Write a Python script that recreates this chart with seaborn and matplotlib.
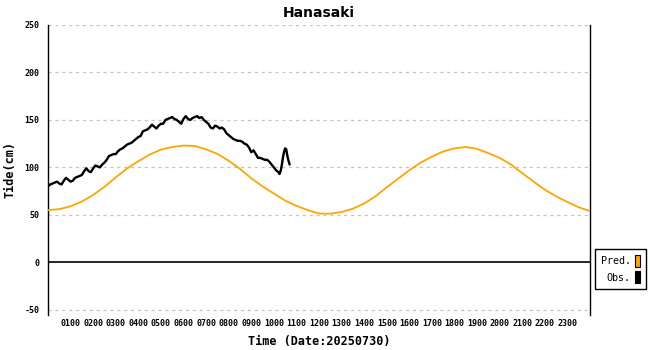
import matplotlib
matplotlib.use("Agg")
import matplotlib.pyplot as plt
import seaborn as sns
import pandas as pd
from matplotlib.patches import Patch

# ---- data ----
pred_hours = [0, 0.5, 1, 1.5, 2, 2.5, 3, 3.5, 4, 4.5, 5, 5.5, 6, 6.5, 7, 7.5, 8, 8.5,
              9, 9.5, 10, 10.5, 11, 11.5, 12, 12.5, 13, 13.5, 14, 14.5, 15, 15.5, 16,
              16.5, 17, 17.5, 18, 18.5, 19, 19.5, 20, 20.5, 21, 21.5, 22, 22.5, 23,
              23.5, 24]
pred_cm = [55, 56, 59, 64, 71, 79.5, 89.5, 98.8, 106.5, 113.5, 118.7, 121.5, 123, 122.6,
           119, 114.3, 107, 98.5, 88.5, 80, 72.5, 65, 59.5, 55, 51.4, 51.2, 53, 56.5,
           62, 69.5, 79, 88, 97, 105, 111.3, 116.8, 120, 121.5, 119.5, 115, 110, 103,
           94, 85, 76.5, 69.5, 63.5, 58, 54]

obs_hours = [0.0, 0.1, 0.2, 0.3, 0.4, 0.5, 0.6, 0.7, 0.8, 0.9, 1.0, 1.1, 1.2, 1.3, 1.4,
             1.5, 1.6, 1.7, 1.8, 1.9, 2.0, 2.1, 2.2, 2.3, 2.4, 2.5, 2.6, 2.7, 2.8, 2.9,
             3.0, 3.1, 3.2, 3.3, 3.4, 3.5, 3.6, 3.7, 3.8, 3.9, 4.0, 4.1, 4.2, 4.3, 4.4,
             4.5, 4.6, 4.7, 4.8, 4.9, 5.0, 5.1, 5.2, 5.3, 5.4, 5.5, 5.6, 5.7, 5.8, 5.9,
             6.0, 6.1, 6.2, 6.3, 6.4, 6.5, 6.6, 6.7, 6.8, 6.9, 7.0, 7.1, 7.2, 7.3, 7.4,
             7.5, 7.6, 7.7, 7.8, 7.9, 8.0, 8.1, 8.2, 8.3, 8.4, 8.5, 8.6, 8.7, 8.8, 8.9,
             9.0, 9.1, 9.2, 9.3, 9.4, 9.5, 9.6, 9.7, 9.8, 9.9, 10.0, 10.1, 10.2, 10.25,
             10.3, 10.35, 10.4, 10.45, 10.5, 10.55, 10.6, 10.65, 10.7]
obs_cm = [80, 82, 83, 84, 85, 83, 82, 86, 89, 87, 85, 86, 89, 90, 91,
          92, 96, 99, 96, 95, 99, 102, 101, 100, 103, 105, 108, 112, 113, 114,
          114, 117, 119, 120, 122, 124, 125, 126, 128, 130, 132, 133, 138, 139, 140,
          142, 145, 143, 141, 144, 146, 146, 150, 151, 152, 153, 151, 150, 148, 146,
          151, 154, 151, 150, 152, 153, 154, 152, 153, 150, 148, 146, 142, 141, 144,
          143, 141, 142, 140, 136, 134, 132, 130, 129, 128, 128, 127, 125, 124, 121,
          116, 118, 114, 110, 110, 109, 108, 108, 106, 103, 100, 97, 95, 93,
          96, 102, 110, 116, 120, 119, 112, 107, 103]

hour_ticks = list(range(1, 24))
hour_labels = ["%02d00" % h for h in hour_ticks]
y_ticks = [-50, 0, 50, 100, 150, 200, 250]

pred_df = pd.DataFrame({"hour": pred_hours, "cm": pred_cm})
obs_df = pd.DataFrame({"hour": obs_hours, "cm": obs_cm})

# ---- figure ----
sns.set_style("white")
plt.rcParams["font.family"] = ["DejaVu Sans Mono", "DejaVu Sans"]
plt.rcParams["text.color"] = "black"
plt.rcParams["axes.labelcolor"] = "black"
plt.rcParams["xtick.color"] = "black"
plt.rcParams["ytick.color"] = "black"

fig = plt.figure(figsize=(6.5, 3.5), dpi=100)
ax = fig.add_axes([48 / 650, 1 - 315 / 350, 542 / 650, 290 / 350])

for g in [-50, 50, 100, 150, 200, 250]:
    ax.axhline(g, color="#c4c4c4", lw=0.9, ls=(0, (2.5, 3)), zorder=0)
ax.axhline(0, color="black", lw=1.2, zorder=1)

sns.lineplot(data=pred_df, x="hour", y="cm", ax=ax, color="#FFA500", lw=1.3, zorder=3)
sns.lineplot(data=obs_df, x="hour", y="cm", ax=ax, color="black", lw=1.7, zorder=4)

ax.set_xlim(0, 24)
ax.set_ylim(-55.5, 250)
ax.set_xticks(hour_ticks)
ax.set_xticklabels(hour_labels)
ax.set_yticks(y_ticks)
ax.set_yticklabels([str(v) for v in y_ticks])

ax.tick_params(axis="x", direction="in", length=6, width=1, color="black",
               labelsize=6, pad=3, labelcolor="black")
ax.tick_params(axis="y", direction="out", length=4, width=1, color="black",
               labelsize=6, pad=2, labelcolor="black")
for lab in ax.get_xticklabels() + ax.get_yticklabels():
    lab.set_fontweight("bold")

for side in ["top", "bottom"]:
    ax.spines[side].set_visible(False)
for side in ["left", "right"]:
    ax.spines[side].set_visible(True)
    ax.spines[side].set_color("black")
    ax.spines[side].set_linewidth(1.0)

ax.set_title("Hanasaki", fontsize=10, fontweight="bold", color="black",
             family=["DejaVu Sans"], pad=6)
ax.set_xlabel("Time (Date:20250730)", fontsize=8.5, fontweight="bold",
              color="black", labelpad=5)
ax.set_ylabel("Tide(cm)", fontsize=8.5, fontweight="bold", color="black",
              labelpad=6)

handles = [Patch(facecolor="#FFA500", edgecolor="black", lw=0.8, label="Pred."),
           Patch(facecolor="black", edgecolor="black", lw=0.8, label="Obs.")]
leg = fig.legend(handles=handles, loc="upper left",
                 bbox_to_anchor=(595 / 650, 1 - 249 / 350),
                 bbox_transform=fig.transFigure,
                 markerfirst=False, fontsize=7.2, frameon=True, fancybox=False,
                 edgecolor="black", framealpha=1, handlelength=0.55,
                 handleheight=1.5, handletextpad=0.4, borderpad=0.55,
                 labelspacing=0.45, borderaxespad=0)
leg.get_frame().set_linewidth(1.0)
for t in leg.get_texts():
    t.set_color("black")

fig.savefig("out.png", dpi=100)
